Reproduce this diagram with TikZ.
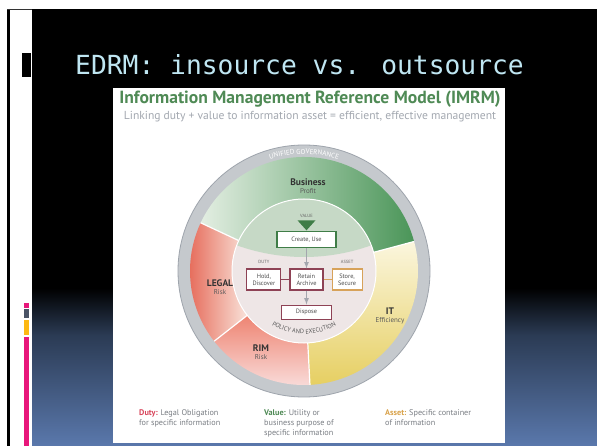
\documentclass[tikz,border=0pt]{standalone}
\usepackage{fontspec}
\setmainfont{PT Sans}
\newfontfamily\slidefont{DejaVu Sans Mono}
\usetikzlibrary{positioning, arrows, decorations.text}

\definecolor{titlecyan}{HTML}{BFE6F2}
\definecolor{imrmgreen}{HTML}{4F8A55}
\definecolor{subgray}{HTML}{A3A8B0}
\definecolor{ringgray}{HTML}{C5C9CD}
\definecolor{ringedge}{HTML}{9EA4AC}
\definecolor{bizdark}{HTML}{4A9558}
\definecolor{bizlight}{HTML}{E3EEE2}
\definecolor{legaldark}{HTML}{E4604E}
\definecolor{legallight}{HTML}{F9E3DA}
\definecolor{rimdark}{HTML}{EE8472}
\definecolor{rimlight}{HTML}{F9DCDA}
\definecolor{itlight}{HTML}{FBF6DE}
\definecolor{itdark}{HTML}{E6CF62}
\definecolor{valuesage}{HTML}{C6D9C6}
\definecolor{innerpink}{HTML}{EEE6E6}
\definecolor{boxgreen}{HTML}{3F7D47}
\definecolor{boxred}{HTML}{8E4255}
\definecolor{boxtan}{HTML}{D7A25A}
\definecolor{flowgray}{HTML}{A4A6AE}
\definecolor{dutyred}{HTML}{D8445A}
\definecolor{assettan}{HTML}{D9A24A}
\definecolor{notegray}{HTML}{7A7E84}
\definecolor{slideblue}{HTML}{5A78AC}
\definecolor{slidemid}{HTML}{2B3B54}
\definecolor{barpink}{HTML}{E8177B}
\definecolor{bargray}{HTML}{4B5466}
\definecolor{baryellow}{HTML}{FDB813}

\tikzset{
node distance=8pt, % gap between the flow boxes
flowbox/.style={draw, fill=white, line width=1.1pt, inner sep=1pt, align=center, font=\fontsize{6.3}{6.8}\selectfont, text=black!70}, % every box of the inner flow
valuebox/.style={flowbox, draw=boxgreen},
dutybox/.style={flowbox, draw=boxred},
assetbox/.style={flowbox, draw=boxtan},
flow/.style={draw=flowgray, line width=1.2pt, -latex}, % grey arrows of the flow
dutylink/.style={draw=boxred, line width=1pt},
assetlink/.style={draw=boxtan, line width=1pt},
sectorname/.style={font=\bfseries\fontsize{9.5}{10}\selectfont, text=black!80, inner sep=0pt},
sectorsub/.style={font=\fontsize{7}{8}\selectfont, text=black!65, inner sep=0pt},
tag/.style={font=\fontsize{4.5}{5}\selectfont, text=black!60, inner sep=0pt}, % VALUE, DUTY, ASSET
note/.style={anchor=north west, align=left, inner sep=0pt, font=\fontsize{8.2}{10}\selectfont, text=notegray},
}

\begin{document}
\begin{tikzpicture}[x=1pt, y=1pt]
    \useasboundingbox (0,0) rectangle (597,-446);

    % slide background
    \fill[white] (0,0) rectangle (597,-446);
    \fill[black] (32,-9) rectangle (597,-288);
    \shade[top color=black, bottom color=slidemid] (32,-288) rectangle (597,-335);
    \shade[top color=slidemid, bottom color=slideblue] (32,-335) rectangle (597,-446);
    \draw[black, line width=3pt] (8.5,-9) -- (8.5,-446);
    \draw[black!80, line width=1.5pt] (7,-9.5) -- (32,-9.5);
    \fill[black] (22,-53) rectangle (31,-77);
    \fill[barpink] (24,-303) rectangle (29,-308);
    \fill[bargray] (24,-309.5) rectangle (29,-318);
    \fill[baryellow] (24,-320) rectangle (29,-335);
    \fill[barpink] (24,-336.5) rectangle (29,-446);

    \node[anchor=base west, inner sep=0pt, text=titlecyan, font=\slidefont\fontsize{26.3}{26.3}\selectfont] (slidetitle) at (75,-75) {EDRM: insource vs. outsource};

    % the model
    \fill[white] (113,-88) rectangle (505,-443);
    \node[font=\bfseries\fontsize{17.6}{17.6}\selectfont, text=imrmgreen, inner sep=0pt] (modeltitle) at (310,-99) {Information Management Reference Model (IMRM)};
    \node[font=\fontsize{11.6}{11.6}\selectfont, text=subgray, inner sep=0pt] (modelsub) at (310,-117) {Linking duty + value to information asset = efficient, effective management};

    \coordinate (C) at (304,-271);
    \fill[ringgray] (C) circle[radius=126];
    \draw[ringedge, line width=0.8pt] (C) circle[radius=126];
    \path[decorate, decoration={text along path, text align=center, text color=white,
        text={|\fontsize{7}{7}\selectfont|UNIFIED GOVERNANCE}}]
        ([shift={(120:117)}]C) arc[start angle=120, end angle=60, radius=117];

    \shade[left color=bizlight, right color=bizdark] ([shift={(15:114)}]C) arc[start angle=15, end angle=155, radius=114] -- ([shift={(155:72)}]C) arc[start angle=155, end angle=15, radius=72] -- cycle;
    \shade[left color=legaldark, right color=legallight] ([shift={(155:114)}]C) arc[start angle=155, end angle=218, radius=114] -- ([shift={(218:72)}]C) arc[start angle=218, end angle=155, radius=72] -- cycle;
    \shade[shading angle=30, top color=rimdark, bottom color=rimlight] ([shift={(218:114)}]C) arc[start angle=218, end angle=273, radius=114] -- ([shift={(273:72)}]C) arc[start angle=273, end angle=218, radius=72] -- cycle;
    \shade[top color=itlight, bottom color=itdark] ([shift={(273:114)}]C) arc[start angle=273, end angle=375, radius=114] -- ([shift={(375:72)}]C) arc[start angle=375, end angle=273, radius=72] -- cycle;
    \foreach \a in {15,155,218,273}
        \draw[white, line width=1.2pt] ([shift={(\a:72)}]C) -- ([shift={(\a:114)}]C);

    \fill[innerpink] (C) circle[radius=72];
    \begin{scope}
        \clip (C) circle[radius=72];
        \fill[valuesage] (304,-59) circle[radius=198];
    \end{scope}
    \draw[white, line width=1pt] (C) circle[radius=72];
    \path[decorate, decoration={text along path, text align=center, text color=black!65,
        text={|\fontsize{6.3}{6.3}\selectfont|POLICY AND EXECUTION}}]
        ([shift={(230:63)}]C) arc[start angle=230, end angle=310, radius=63];

    \node[sectorname] (business) at (308,-182) {Business};
    \node[sectorsub, below=3pt of business] (profit) {Profit};
    \node[sectorname] (legal) at (220,-283) {LEGAL};
    \node[sectorsub, below=3pt of legal] (legalrisk) {Risk};
    \node[sectorname] (rim) at (261,-348) {RIM};
    \node[sectorsub, below=3pt of rim] (rimrisk) {Risk};
    \node[sectorname] (it) at (390,-311) {IT};
    \node[sectorsub, below=3pt of it] (efficiency) {Efficiency};

    % inner flow
    \node[dutybox, minimum width=33pt, minimum height=21pt] (retain) at (306.5,-279.5) {Retain\\Archive};
    \node[dutybox, minimum width=34pt, minimum height=21pt, left=of retain] (hold) {Hold,\\Discover};
    \node[assetbox, minimum width=30pt, minimum height=21pt, right=of retain] (store) {Store,\\Secure};
    \node[dutybox, minimum width=50pt, minimum height=14pt, below=14pt of retain] (dispose) {Dispose};
    \node[valuebox, minimum width=59pt, minimum height=16pt, above=20pt of retain] (create) {Create, Use};
    \node[tag, above=14pt of create] (valuetag) {VALUE};
    \node[tag, above=5pt of hold] (dutytag) {DUTY};
    \node[tag, above=5pt of store] (assettag) {ASSET};
    \fill[boxgreen] ([xshift=-9pt,yshift=11pt]create.north) -- ([xshift=9pt,yshift=11pt]create.north) -- ([yshift=1pt]create.north) -- cycle;

    \draw[dutylink] (hold) -- (retain);
    \draw[assetlink] (retain) -- (store);
    \draw[flow] (create) -- (retain);
    \draw[flow] (retain) -- (dispose);

    % notes under the model
    \node[note] (dutynote) at (139,-409) {\textcolor{dutyred}{\bfseries Duty:} Legal Obligation\\for specific information};
    \node[note] (valuenote) at (264,-409) {\textcolor{imrmgreen}{\bfseries Value:} Utility or\\business purpose of\\specific information};
    \node[note] (assetnote) at (385,-409) {\textcolor{assettan}{\bfseries Asset:} Specific container\\of information};
\end{tikzpicture}
\end{document}
